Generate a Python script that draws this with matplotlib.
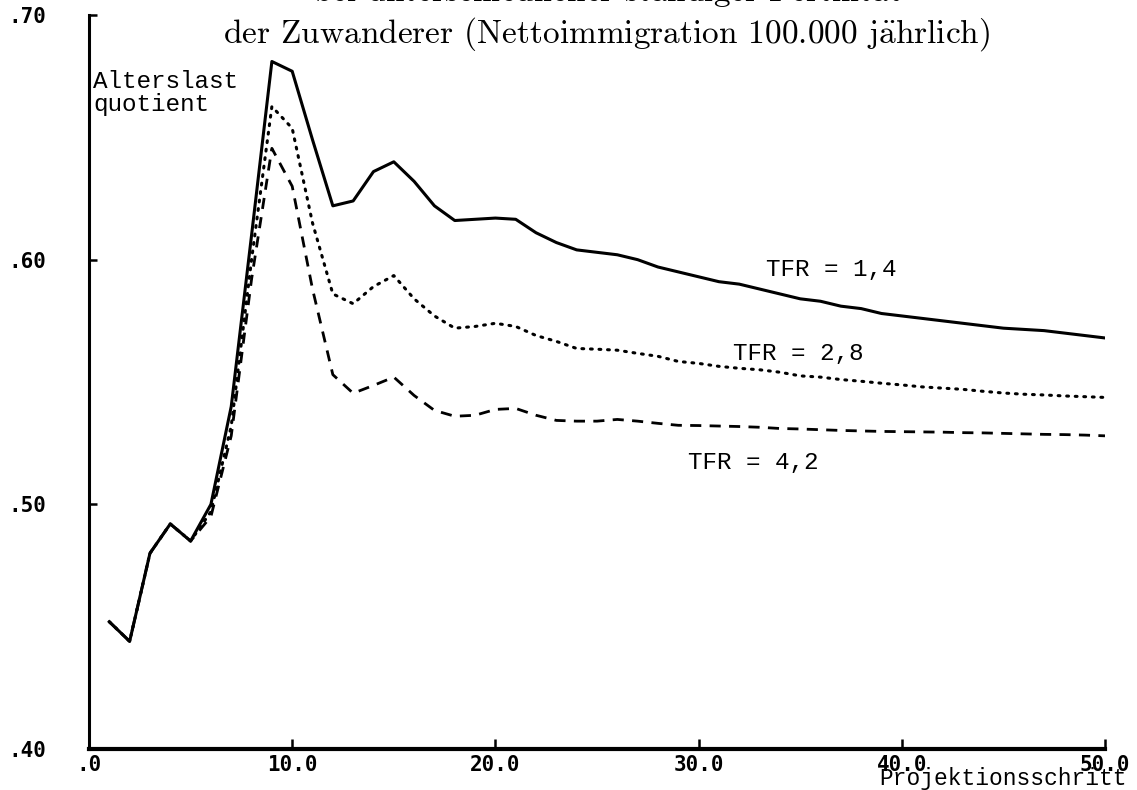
import matplotlib.pyplot as plt
import numpy as np

plt.rcParams["mathtext.fontset"] = "cm"

# Alterslastquotient je Projektionsschritt fuer drei Fertilitaetsniveaus
steps = list(range(1, 51))
tfr_14 = [0.452, 0.444, 0.480, 0.492, 0.485, 0.500, 0.540, 0.610, 0.681, 0.677,
          0.649, 0.622, 0.624, 0.636, 0.640, 0.632, 0.622, 0.616, 0.6165, 0.617,
          0.6165, 0.611, 0.607, 0.604, 0.603, 0.602, 0.600, 0.597, 0.595, 0.593,
          0.591, 0.590, 0.588, 0.586, 0.584, 0.583, 0.581, 0.580, 0.578, 0.577,
          0.576, 0.575, 0.574, 0.573, 0.572, 0.5715, 0.571, 0.570, 0.569, 0.568]
tfr_28 = [0.452, 0.444, 0.480, 0.492, 0.485, 0.497, 0.532, 0.600, 0.6626, 0.6537,
          0.615, 0.586, 0.582, 0.589, 0.5935, 0.584, 0.577, 0.572, 0.5727, 0.574,
          0.5727, 0.569, 0.5666, 0.5637, 0.5634, 0.563, 0.5617, 0.5605, 0.5584, 0.5576,
          0.5564, 0.5556, 0.555, 0.554, 0.5525, 0.552, 0.551, 0.5503, 0.5495, 0.5488,
          0.548, 0.5475, 0.547, 0.5462, 0.5455, 0.545, 0.5447, 0.5443, 0.544, 0.5437]
tfr_42 = [0.452, 0.444, 0.480, 0.492, 0.485, 0.495, 0.528, 0.592, 0.6455, 0.630,
          0.588, 0.553, 0.5454, 0.5486, 0.552, 0.5445, 0.5384, 0.536, 0.5364, 0.5388,
          0.5392, 0.5364, 0.5343, 0.534, 0.534, 0.5347, 0.534, 0.5331, 0.5323, 0.5322,
          0.532, 0.5318, 0.5315, 0.531, 0.5308, 0.5305, 0.5302, 0.530, 0.5298, 0.5297,
          0.5296, 0.5295, 0.5293, 0.5292, 0.529, 0.5288, 0.5286, 0.5285, 0.5283, 0.528]

xticks = [0, 10, 20, 30, 40, 50]
xticklabels = [".0", "10.0", "20.0", "30.0", "40.0", "50.0"]
yticks = [0.40, 0.50, 0.60, 0.70]
yticklabels = [".40", ".50", ".60", ".70"]

MONO = "Liberation Mono"
MONO_SIZE = 17.5
TICKFONT = dict(family="DejaVu Sans Mono", weight="bold", size=15)
A_UML = r"$\ddot{\mathrm{a}}$"

fig = plt.figure(figsize=(11.37, 7.90), dpi=100)
ax = fig.add_axes([89 / 1137, 41 / 790, 1016 / 1137, 734 / 790])

ax.plot(steps, tfr_14, color="black", lw=2.2, solid_joinstyle="round")
ax.plot(steps, tfr_28, color="black", lw=2.2, linestyle=(0, (0.6, 2.2)),
        dash_capstyle="round")
ax.plot(steps, tfr_42, color="black", lw=2.0, linestyle=(0, (4, 3)))

ax.set_xlim(0, 50)
ax.set_ylim(0.40, 0.70)
for side in ("top", "right"):
    ax.spines[side].set_visible(False)
ax.spines["left"].set_linewidth(2.2)
ax.spines["bottom"].set_linewidth(3.0)

ax.set_xticks(xticks)
ax.set_xticklabels(xticklabels, **TICKFONT)
ax.set_yticks(yticks)
ax.set_yticklabels(yticklabels, **TICKFONT)
ax.tick_params(axis="x", direction="in", length=7, width=1.8, pad=4)
ax.tick_params(axis="y", direction="in", length=6, width=1.8, pad=31)

ax.text(0.2, 0.6775, "Alterslast\nquotient", family=MONO, fontsize=MONO_SIZE,
        va="top", ha="left", linespacing=1.0)
ax.text(33.3, 0.5958, "TFR = 1,4", family=MONO, fontsize=MONO_SIZE, va="center")
ax.text(31.7, 0.5618, "TFR = 2,8", family=MONO, fontsize=MONO_SIZE, va="center")
ax.text(29.5, 0.5173, "TFR = 4,2", family=MONO, fontsize=MONO_SIZE, va="center")

fig.text(1127 / 1137, 1 - 785 / 790, "Projektionsschritt", family=MONO,
         fontsize=16.5, ha="right", va="baseline")

fig.text(607 / 1137, 1 - 43 / 790,
         "der Zuwanderer (Nettoimmigration 100.000 j" + A_UML + "hrlich)",
         family="cmr10", fontsize=24, ha="center", va="baseline")
fig.text(607 / 1137, 1 - 1 / 790,
         "bei unterschiedlicher st" + A_UML + "ndiger Fertilit" + A_UML + "t",
         family="cmr10", fontsize=24, ha="center", va="baseline")

fig.savefig("out.png", dpi=100)
